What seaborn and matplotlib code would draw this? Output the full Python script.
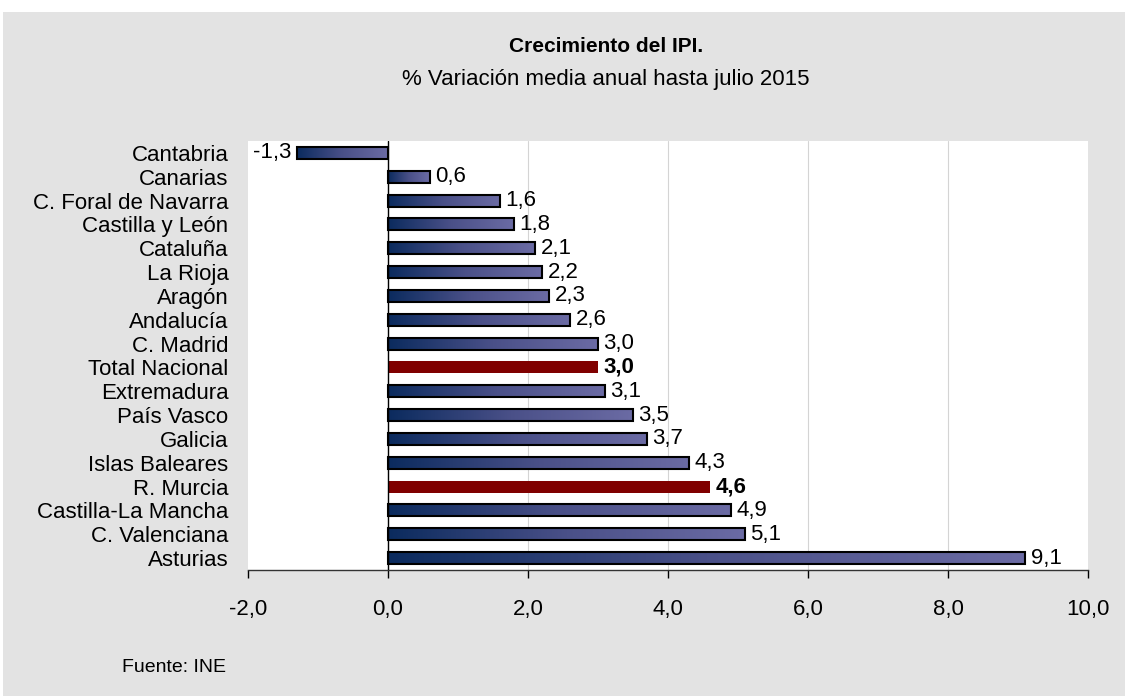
import numpy as np
import pandas as pd
import matplotlib.pyplot as plt
import seaborn as sns
from matplotlib.colors import LinearSegmentedColormap
from matplotlib.patches import Rectangle

# Data
regions = ["Cantabria", "Canarias", "C. Foral de Navarra", "Castilla y León", "Cataluña",
           "La Rioja", "Aragón", "Andalucía", "C. Madrid", "Total Nacional", "Extremadura",
           "País Vasco", "Galicia", "Islas Baleares", "R. Murcia", "Castilla-La Mancha",
           "C. Valenciana", "Asturias"]
growth = [-1.3, 0.6, 1.6, 1.8, 2.1, 2.2, 2.3, 2.6, 3.0, 3.0, 3.1, 3.5, 3.7, 4.3, 4.6, 4.9, 5.1, 9.1]
highlight = ["Total Nacional", "R. Murcia"]
xticks = [-2, 0, 2, 4, 6, 8, 10]

df = pd.DataFrame({"region": regions, "growth": growth})
df["group"] = np.where(df["region"].isin(highlight), "hl", "normal")

sns.set_style("white")
plt.rcParams["font.family"] = ["Liberation Sans", "DejaVu Sans"]
plt.rcParams["text.color"] = "black"
plt.rcParams["xtick.color"] = "black"
plt.rcParams["ytick.color"] = "black"

fig = plt.figure(figsize=(11.25, 6.96), dpi=100, facecolor="white")
# grey panel behind everything
fig.patches.append(Rectangle((3 / 1125, 0), 1, 1 - 12 / 696, transform=fig.transFigure,
                             facecolor="#e3e3e3", edgecolor="none", zorder=-10))
ax = fig.add_axes([248 / 1125, 1 - 570 / 696, 840 / 1125, 429 / 696])
ax.set_facecolor("white")

sns.barplot(data=df, x="growth", y="region", hue="group", hue_order=["normal", "hl"],
            palette={"normal": "#4a4f85", "hl": "#800000"}, width=0.5, dodge=False,
            saturation=1, legend=False, orient="h", ax=ax)

# gradient fill for the normal bars
cmap = LinearSegmentedColormap.from_list("bar", ["#0b2b5e", "#4a5088", "#6b6ba4"])
grad = np.linspace(0, 1, 256).reshape(1, -1)
for patch in ax.containers[0]:
    bb = patch.get_bbox()
    x0, x1 = sorted([bb.x0, bb.x1])
    y0, y1 = sorted([bb.y0, bb.y1])
    im = ax.imshow(grad, cmap=cmap, extent=(x0, x1, y1, y0), aspect="auto",
                   interpolation="bilinear", zorder=3)
    im.set_clip_path(patch)
    patch.set_facecolor("none")
    patch.set_edgecolor("black")
    patch.set_linewidth(1.5)
    patch.set_zorder(3.5)
for patch in ax.containers[1]:
    patch.set_edgecolor("none")
    patch.set_zorder(3.5)

fmt = lambda v: f"{v:.1f}".replace(".", ",")
ax.bar_label(ax.containers[0], labels=[fmt(v) for v in ax.containers[0].datavalues],
             padding=4, fontsize=16)
ax.bar_label(ax.containers[1], labels=[fmt(v) for v in ax.containers[1].datavalues],
             padding=4, fontsize=16, fontweight="bold")

ax.axvline(0, color="black", lw=1, zorder=4)
ax.set_xlim(-2, 10)
ax.set_ylim(len(regions) - 0.5, -0.5)
ax.set_xticks(xticks)
ax.set_xticklabels([fmt(t) for t in xticks])
ax.xaxis.grid(True, color="#d4d4d4", lw=0.8)
ax.set_axisbelow(True)
gl = ax.get_xgridlines()
gl[0].set_visible(False)
gl[-1].set_visible(False)

for s in ["top", "right", "left"]:
    ax.spines[s].set_visible(False)
ax.spines["bottom"].set_color("#333333")
ax.spines["bottom"].set_linewidth(1)
ax.tick_params(axis="x", bottom=True, direction="out", length=6, width=1, pad=15, labelsize=16)
ax.tick_params(axis="y", left=False, length=0, pad=14, labelsize=16)
ax.set_xlabel("")
ax.set_ylabel("")

fig.text(606 / 1125, 1 - 47 / 696, "Crecimiento del IPI.", ha="center", va="center",
         fontsize=15, fontweight="bold")
fig.text(606 / 1125, 1 - 80 / 696, "% Variación media anual hasta julio 2015", ha="center",
         va="center", fontsize=16)
fig.text(122 / 1125, 1 - 668 / 696, "Fuente: INE", ha="left", va="center", fontsize=14)

fig.savefig("out.png", dpi=100, facecolor=fig.get_facecolor())
